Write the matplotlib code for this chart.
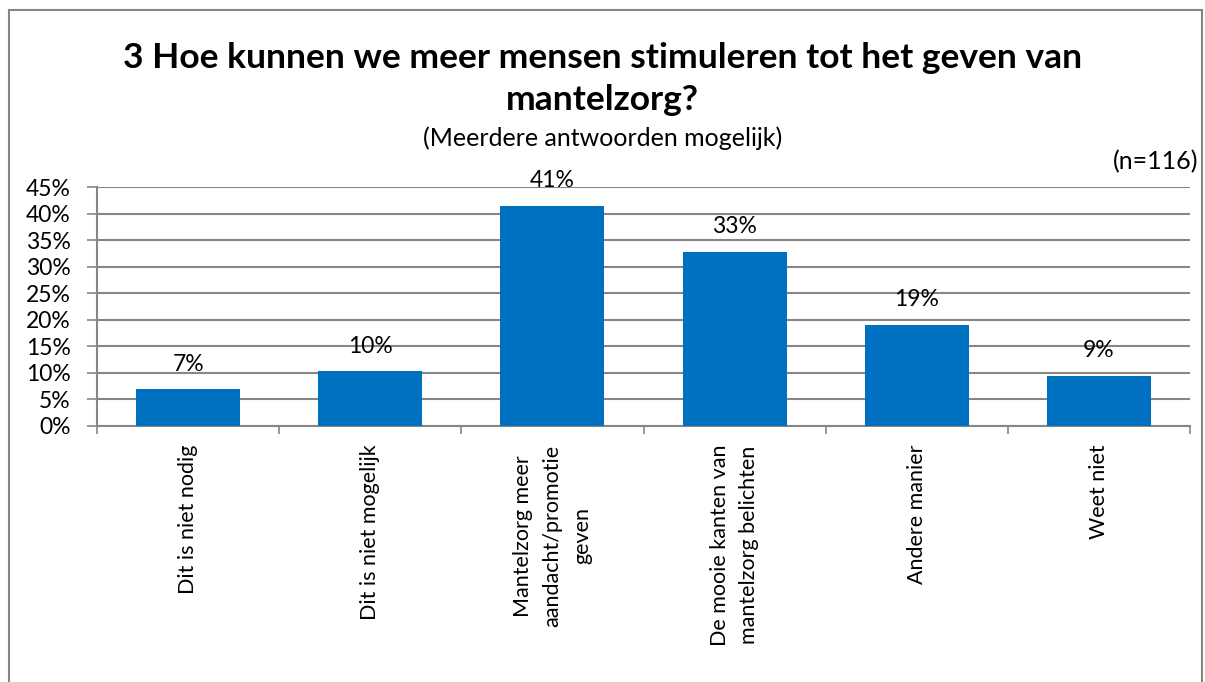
import matplotlib.pyplot as plt
from matplotlib.patches import Rectangle

plt.rcParams['font.family'] = ['Lato', 'DejaVu Sans']

# survey answers, share of respondents (%)
categories = ["Dit is niet nodig",
              "Dit is niet mogelijk",
              "Mantelzorg meer\naandacht/promotie\ngeven",
              "De mooie kanten van\nmantelzorg belichten",
              "Andere manier",
              "Weet niet"]
values = [6.9, 10.3, 41.4, 32.8, 19.0, 9.5]
labels = ["7%", "10%", "41%", "33%", "19%", "9%"]
yticks = [0, 5, 10, 15, 20, 25, 30, 35, 40, 45]

fig = plt.figure(figsize=(12.05, 6.82), dpi=100)
ax = fig.add_axes([97 / 1205, 1 - 426 / 682, 1093 / 1205, 239 / 682])

# outer chart border
fig.patches.append(Rectangle((9 / 1205, -0.01), 1193 / 1205, 1 - 10 / 682 + 0.01,
                             transform=fig.transFigure, fill=False,
                             edgecolor='#868686', linewidth=1.5))

x = range(len(categories))
bars = ax.bar(x, values, width=0.57, color='#0070C0', zorder=3)
for xi, v, lab in zip(x, values, labels):
    ax.annotate(lab, (xi, v), xytext=(0, 13.5), textcoords='offset points',
                ha='center', va='baseline', fontsize=16.5)

ax.set_xlim(-0.5, len(categories) - 0.5)
ax.set_ylim(0, 45)
ax.set_yticks(yticks)
ax.set_yticklabels([f"{t}%" for t in yticks], fontsize=16.5)
ax.yaxis.grid(True, color='#868686', linewidth=1.5)
ax.set_axisbelow(True)

ax.set_xticks([i - 0.5 for i in range(len(categories) + 1)])
ax.set_xticklabels([])
ax.tick_params(axis='x', length=6, color='#868686', width=1.2)
ax.tick_params(axis='y', length=7, color='#868686', width=1.2, pad=12)
for xi, cat in zip(x, categories):
    ax.text(xi, -3.5, cat, rotation=90, ha='center', va='top',
            multialignment='center', fontsize=15.5, linespacing=1.6)

for s in ['top', 'right']:
    ax.spines[s].set_visible(False)
ax.spines['left'].set_color('#868686')
ax.spines['bottom'].set_color('#868686')
ax.spines['left'].set_linewidth(1.5)
ax.spines['bottom'].set_linewidth(1.5)

fig.text(0.5, 1 - 58 / 682, "3 Hoe kunnen we meer mensen stimuleren tot het geven van",
         ha='center', va='center', fontsize=25.5, fontweight='bold')
fig.text(0.5, 1 - 100 / 682, "mantelzorg?", ha='center', va='center',
         fontsize=25.5, fontweight='bold')
fig.text(0.5, 1 - 138 / 682, "(Meerdere antwoorden mogelijk)", ha='center',
         va='center', fontsize=18)
fig.text(1198 / 1205, 1 - 162 / 682, "(n=116)", ha='right', va='center', fontsize=18)

plt.savefig("out.png", dpi=100)
